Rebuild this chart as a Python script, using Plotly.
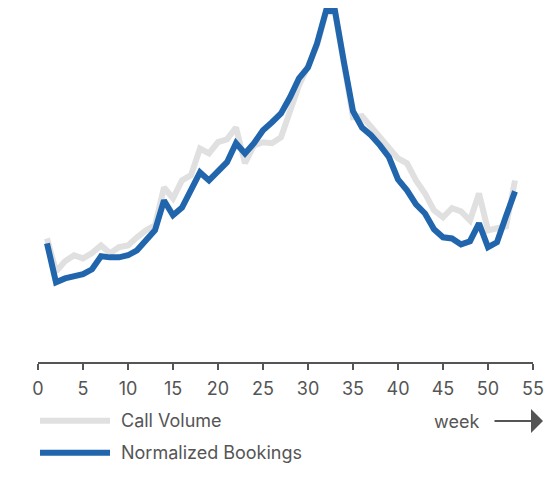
import plotly.graph_objects as go

weeks = list(range(1, 54))
call_volume = [35.2, 25.8, 28.7, 30.4, 29.5, 31.0, 33.2, 31.0, 32.7, 33.2,
               35.5, 37.5, 38.9, 49.7, 46.6, 51.7, 53.2, 60.8, 59.4, 62.6,
               63.4, 66.8, 56.6, 61.7, 62.6, 62.3, 64.0, 71.7, 78.8, 84.2,
               90.2, 99.6, 99.6, 84.8, 69.7, 70.0, 67.1, 64.0, 60.8, 58.0,
               56.6, 51.7, 48.0, 43.2, 41.2, 43.8, 42.9, 40.3, 48.0, 37.5,
               38.1, 38.6, 51.7]
normalized_bookings = [33.8, 22.7, 23.8, 24.4, 25.0, 26.4, 30.1, 29.8, 29.8, 30.4,
                       31.8, 34.7, 37.5, 46.0, 41.8, 44.0, 48.9, 54.0, 51.7, 54.6,
                       56.9, 62.3, 59.4, 62.3, 66.0, 68.3, 70.8, 75.4, 80.8, 83.9,
                       90.7, 100.0, 100.0, 85.3, 71.4, 66.8, 64.6, 61.7, 58.3, 52.0,
                       48.9, 44.9, 42.3, 37.8, 35.5, 35.2, 33.5, 34.4, 39.5, 32.7,
                       34.1, 41.5, 48.6]
x_ticks = list(range(0, 56, 5))

GRAY = "#e0e0e0"
BLUE = "#2166ac"
AXIS = "#555555"
FONT = "Inter"
FS = 18

W, H = 549, 484
ML, MR, MT, MB = 38, 16, 0, 122
PW, PH = W - ML - MR, H - MT - MB

def px_x(p):
    return (p - ML) / PW

def px_y(p):
    return (H - MB - p) / PH

fig = go.Figure()
fig.add_trace(go.Scatter(x=weeks, y=call_volume, mode="lines", name="Call Volume",
                         line=dict(color=GRAY, width=6), showlegend=False, cliponaxis=False))
fig.add_trace(go.Scatter(x=weeks, y=normalized_bookings, mode="lines", name="Normalized Bookings",
                         line=dict(color=BLUE, width=6), showlegend=False, cliponaxis=False))

# legend drawn manually
legend_items = [("Call Volume", GRAY, 420.7), ("Normalized Bookings", BLUE, 452.7)]
for label, color, py in legend_items:
    fig.add_shape(type="line", xref="paper", yref="paper",
                  x0=px_x(40), x1=px_x(110), y0=px_y(py), y1=px_y(py),
                  line=dict(color=color, width=6))
    fig.add_annotation(xref="paper", yref="paper", x=px_x(119), y=px_y(py),
                       text=label, showarrow=False, xanchor="left", yanchor="middle",
                       font=dict(family=FONT, size=FS, color=AXIS))

fig.add_annotation(xref="paper", yref="paper", x=px_x(481), y=px_y(421),
                   text="week", showarrow=False, xanchor="right", yanchor="middle",
                   font=dict(family=FONT, size=FS, color=AXIS))
fig.add_annotation(xref="paper", yref="paper", x=px_x(543), y=px_y(421),
                   ax=-50, ay=0, text="", showarrow=True, arrowhead=1,
                   arrowsize=2, arrowwidth=2, arrowcolor=AXIS)

fig.update_layout(
    width=W, height=H,
    margin=dict(l=ML, r=MR, t=MT, b=MB),
    paper_bgcolor="white", plot_bgcolor="white",
    font=dict(family=FONT, color=AXIS, size=FS),
    xaxis=dict(range=[0, 55], tickvals=x_ticks, showline=True, linecolor=AXIS, linewidth=2,
               ticks="outside", ticklen=6, tickwidth=2, tickcolor=AXIS,
               ticklabelstandoff=3,
               showgrid=False, zeroline=False, fixedrange=True,
               tickfont=dict(family=FONT, size=FS, color=AXIS)),
    yaxis=dict(range=[0, 103.1], visible=False, showgrid=False, zeroline=False),
)

fig.write_html("out.html")
